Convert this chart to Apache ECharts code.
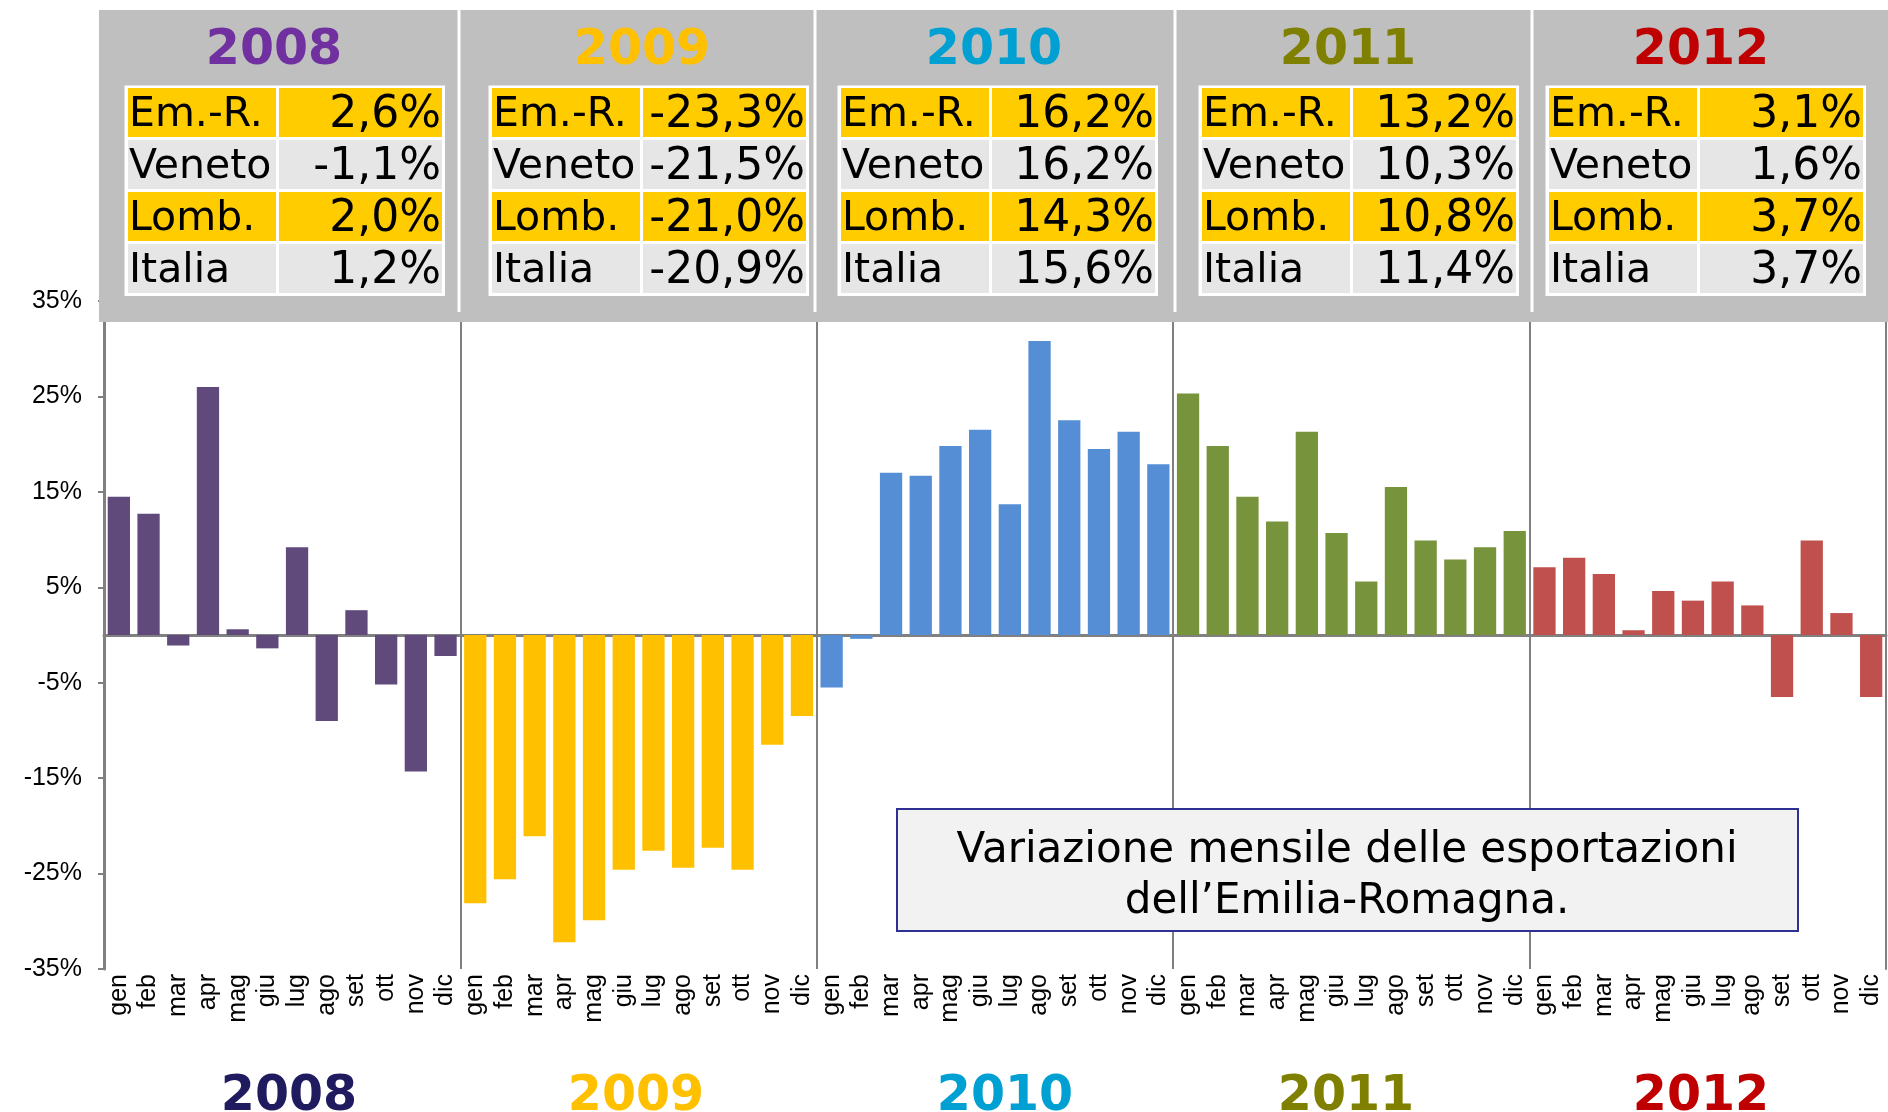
<!DOCTYPE html>
<html>
<head>
<meta charset="utf-8">
<script src="https://cdn.jsdelivr.net/npm/echarts@6/dist/echarts.min.js"></script>
<style>
  html, body { margin: 0; padding: 0; background: #fff; }
  #chart { width: 1888px; height: 1112px; }
</style>
</head>
<body>
<div id="chart"></div>
<script>
// mesi e anni
var months = ['gen', 'feb', 'mar', 'apr', 'mag', 'giu', 'lug', 'ago', 'set', 'ott', 'nov', 'dic'];
var years = ['2008', '2009', '2010', '2011', '2012'];

// variazione mensile export Emilia-Romagna (%)
var v2008 = [14.5, 12.7, -1.1, 26.0, 0.6, -1.4, 9.2, -9.0, 2.6, -5.2, -14.3, -2.2];
var v2009 = [-28.1, -25.6, -21.1, -32.2, -29.9, -24.6, -22.6, -24.4, -22.3, -24.6, -11.5, -8.5];
var v2010 = [-5.5, -0.4, 17.0, 16.7, 19.8, 21.5, 13.7, 30.8, 22.5, 19.5, 21.3, 17.9];
var v2011 = [25.3, 19.8, 14.5, 11.9, 21.3, 10.7, 5.6, 15.5, 9.9, 7.9, 9.2, 10.9];
var v2012 = [7.1, 8.1, 6.4, 0.5, 4.6, 3.6, 5.6, 3.1, -6.5, 9.9, 2.3, -6.5];

// tabelle annuali
var regions = ['Em.-R.', 'Veneto', 'Lomb.', 'Italia'];
var t2008 = [2.6, -1.1, 2.0, 1.2];
var t2009 = [-23.3, -21.5, -21.0, -20.9];
var t2010 = [16.2, 16.2, 14.3, 15.6];
var t2011 = [13.2, 10.3, 10.8, 11.4];
var t2012 = [3.1, 1.6, 3.7, 3.7];

// colori
var barColors = ['#604A7B', '#FFC000', '#558ED5', '#77933C', '#C0504D'];
var headColors = ['#7030A0', '#FFC000', '#00A0D2', '#808000', '#C00000'];
var footColors = ['#1F1B5E', '#FFC000', '#00A0D2', '#808000', '#C00000'];

var values = [].concat(v2008, v2009, v2010, v2011, v2012);
var tables = [t2008, t2009, t2010, t2011, t2012];
var categories = [];
years.forEach(function () { categories = categories.concat(months); });

function fmt(v) {
  return v.toFixed(1).replace('.', ',') + '%';
}

// tabelle in alto
var headSplit = [99, 459, 815, 1175, 1532, 1888];
var headCenters = [274, 642, 994, 1348, 1701];
var tableX = [128, 492, 841, 1202, 1549];
var footCenters = [289, 636, 1005, 1346, 1701];
var rowTop = 88, rowH = 52, labW = 151, valW = 163;

var graphics = [];
graphics.push({
  type: 'rect', z: 100,
  shape: { x: 99, y: 10, width: 1789, height: 312 },
  style: { fill: '#BFBFBF' }
});
for (var s = 1; s < 5; s++) {
  graphics.push({
    type: 'rect', z: 101,
    shape: { x: headSplit[s] - 1.5, y: 10, width: 3, height: 302 },
    style: { fill: '#fff' }
  });
}
years.forEach(function (y, i) {
  graphics.push({
    type: 'text', z: 102, x: headCenters[i], y: 51,
    style: {
      text: y, fill: headColors[i], font: 'bold 49px "DejaVu Sans"',
      textAlign: 'center', textVerticalAlign: 'middle'
    }
  });
  var tx = tableX[i];
  graphics.push({
    type: 'rect', z: 101,
    shape: { x: tx - 3.5, y: rowTop - 2.5, width: labW + valW + 6.5, height: rowH * 4 + 2.5 },
    style: { fill: '#fff' }
  });
  regions.forEach(function (r, k) {
    var fill = k % 2 === 0 ? '#FFCC00' : '#E6E6E6';
    var ry = rowTop + k * rowH;
    graphics.push({
      type: 'rect', z: 102,
      shape: { x: tx, y: ry, width: labW - 3, height: rowH - 3 },
      style: { fill: fill }
    });
    graphics.push({
      type: 'rect', z: 102,
      shape: { x: tx + labW, y: ry, width: valW, height: rowH - 3 },
      style: { fill: fill }
    });
    graphics.push({
      type: 'text', z: 103, x: tx + 1, y: ry + (rowH - 3) / 2 + 3,
      style: {
        text: r, fill: '#000', font: '41px "DejaVu Sans"',
        textAlign: 'left', textVerticalAlign: 'middle'
      }
    });
    graphics.push({
      type: 'text', z: 103, x: tx + labW + valW - 1, y: ry + (rowH - 3) / 2 + 3,
      style: {
        text: fmt(tables[i][k]), fill: '#000', font: '44px "DejaVu Sans"',
        textAlign: 'right', textVerticalAlign: 'middle'
      }
    });
  });
  // anni in basso
  graphics.push({
    type: 'text', z: 102, x: footCenters[i], y: 1097,
    style: {
      text: y, fill: footColors[i], font: 'bold 49px "DejaVu Sans"',
      textAlign: 'center', textVerticalAlign: 'middle'
    }
  });
});

// riquadro didascalia
graphics.push({
  type: 'rect', z: 100,
  shape: { x: 897, y: 809, width: 901, height: 122 },
  style: { fill: '#F2F2F2', stroke: '#2E3192', lineWidth: 2 }
});
graphics.push({
  type: 'text', z: 101, x: 1347, y: 851,
  style: {
    text: 'Variazione mensile delle esportazioni', fill: '#000',
    font: '42px "DejaVu Sans"', textAlign: 'center', textVerticalAlign: 'middle'
  }
});
graphics.push({
  type: 'text', z: 101, x: 1347, y: 902,
  style: {
    text: 'dell\u2019Emilia-Romagna.', fill: '#000',
    font: '42px "DejaVu Sans"', textAlign: 'center', textVerticalAlign: 'middle'
  }
});

var myChart = echarts.init(document.getElementById('chart'));
var option = {
  animation: false,
  backgroundColor: '#fff',
  grid: { left: 104, right: 2, top: 301, bottom: 143 },
  xAxis: [
    {
      type: 'category',
      data: categories,
      axisLine: { show: false, onZero: false },
      axisTick: { show: false },
      axisLabel: {
        interval: 0, rotate: 90, margin: 5,
        color: '#000', fontSize: 25, fontFamily: 'Liberation Sans'
      },
      splitLine: {
        show: true,
        interval: function (index) { return index % 12 === 0; },
        lineStyle: { color: '#808080', width: 2 }
      }
    },
    {
      type: 'category',
      data: categories,
      position: 'bottom',
      axisLine: { show: true, onZero: true, lineStyle: { color: '#808080', width: 3 } },
      axisTick: { show: false },
      axisLabel: { show: false },
      splitLine: { show: false }
    }
  ],
  yAxis: [
    {
      type: 'value',
      min: -35, max: 35, interval: 10,
      axisLine: { show: true, lineStyle: { color: '#808080', width: 3 } },
      axisTick: { show: true, length: 6, lineStyle: { color: '#808080', width: 2 } },
      axisLabel: {
        margin: 22, color: '#000', fontSize: 25, fontFamily: 'Liberation Sans',
        formatter: '{value}%'
      },
      splitLine: { show: false }
    },
    {
      type: 'value',
      position: 'right',
      min: -35, max: 35, interval: 10,
      axisLine: { show: true, lineStyle: { color: '#808080', width: 2 } },
      axisTick: { show: false },
      axisLabel: { show: false },
      splitLine: { show: false }
    }
  ],
  series: [
    {
      type: 'bar',
      xAxisIndex: 0,
      yAxisIndex: 0,
      data: values,
      barCategoryGap: '25%',
      itemStyle: {
        color: function (p) { return barColors[Math.floor(p.dataIndex / 12)]; }
      }
    }
  ],
  graphic: graphics
};
myChart.setOption(option);
window.addEventListener('resize', function () {
  myChart.resize();
});
</script>
</body>
</html>
